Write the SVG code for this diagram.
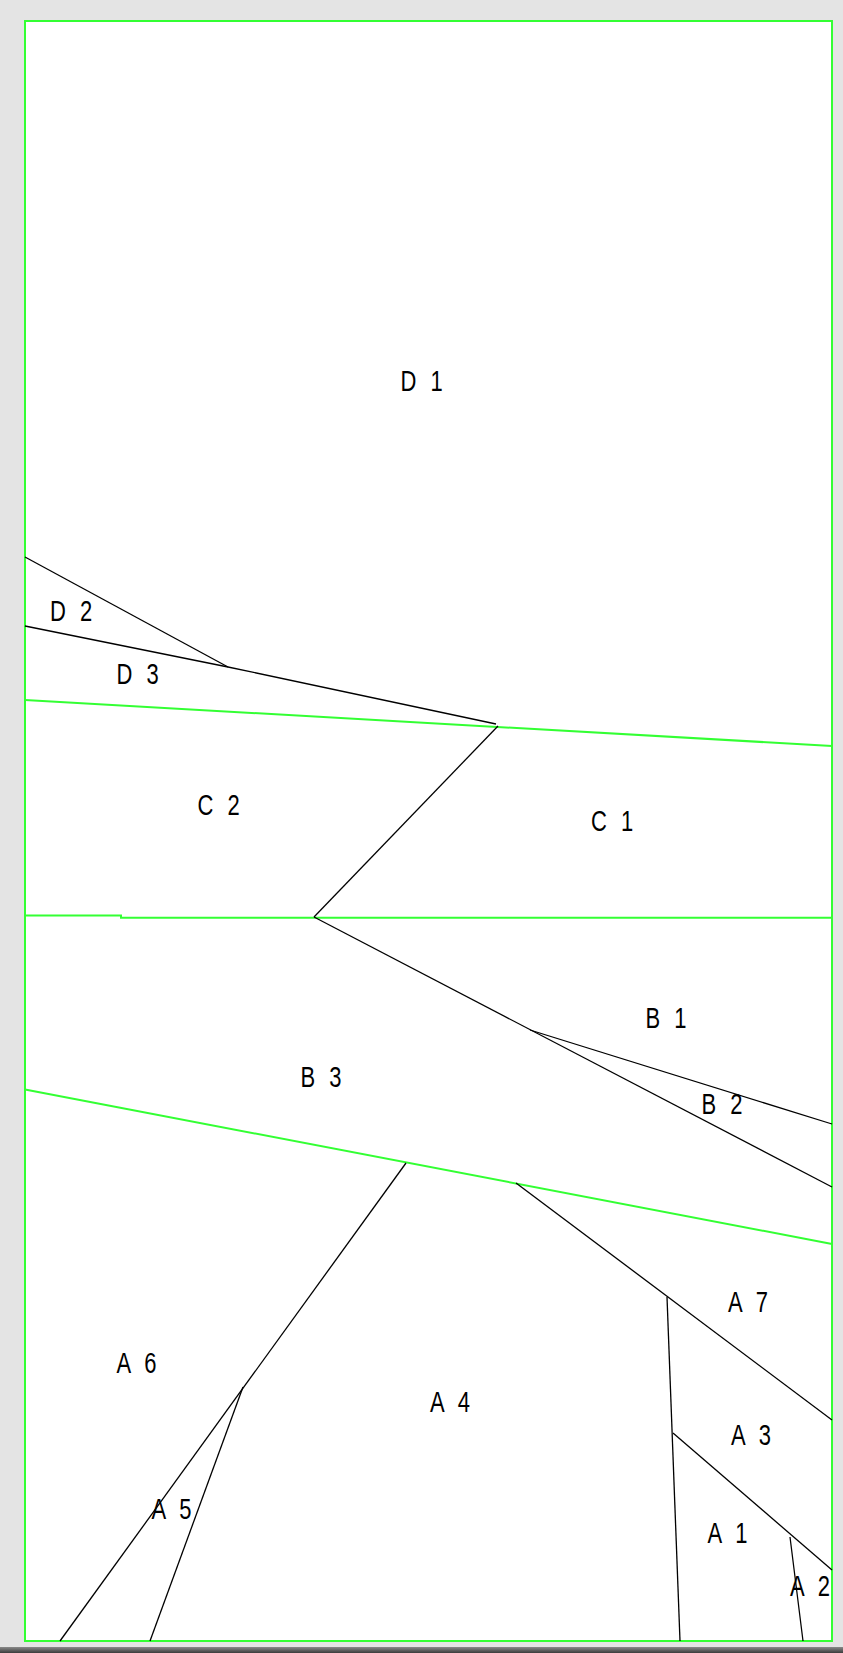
<svg xmlns="http://www.w3.org/2000/svg" width="843" height="1653" viewBox="0 0 843 1653">
  <defs>
    <linearGradient id="bar" x1="0" y1="0" x2="0" y2="1">
      <stop offset="0" stop-color="#8a8a8a"/>
      <stop offset="1" stop-color="#3c3c3c"/>
    </linearGradient>
  </defs>
  <style>
    .zone { fill: none; stroke: #33ff33; stroke-width: 2; }
    .div { fill: none; stroke: #000000; stroke-width: 1.3; }
    .lbl { font-family: "Liberation Sans", Arial, sans-serif; font-size: 22px; word-spacing: 8px; text-anchor: middle; fill: #000000; }
  </style>
  <rect x="0" y="0" width="843" height="1653" fill="#e4e4e4"/>
  <rect x="0" y="1647" width="843" height="6" fill="url(#bar)"/>
  <rect x="25" y="21" width="807" height="1620" fill="#ffffff"/>
  <rect x="25" y="21" width="807" height="1620" class="zone"/>

  <g id="zone-boundaries">
    <polyline class="zone" points="25,700 832,746"/>
    <polyline class="zone" points="25,915.5 121,915.5 121,917.8 832,917.8"/>
    <polyline class="zone" points="25,1089.5 832,1244"/>
  </g>

  <g id="dividers">
    <polyline class="div" points="25,557 228,667"/>
    <polyline class="div" points="25,626 228,667 496,724"/>
    <polyline class="div" points="498,726 314,917"/>
    <polyline class="div" points="314,917 832,1187"/>
    <polyline class="div" points="530,1030 832,1124"/>
    <polyline class="div" points="406,1163 60,1641"/>
    <polyline class="div" points="243,1387 150,1641"/>
    <polyline class="div" points="516,1183 832,1420"/>
    <polyline class="div" points="667,1297 680,1641"/>
    <polyline class="div" points="673,1433 832,1570"/>
    <polyline class="div" points="790,1537 803,1641"/>
  </g>

  <g id="D1"><text class="lbl" transform="translate(421.5,391) scale(1,1.33)">D 1</text></g>
  <g id="D2"><text class="lbl" transform="translate(71,621) scale(1,1.33)">D 2</text></g>
  <g id="D3"><text class="lbl" transform="translate(137.5,684) scale(1,1.33)">D 3</text></g>
  <g id="C2"><text class="lbl" transform="translate(218.5,815) scale(1,1.33)">C 2</text></g>
  <g id="C1"><text class="lbl" transform="translate(612,831) scale(1,1.33)">C 1</text></g>
  <g id="B1"><text class="lbl" transform="translate(666,1028) scale(1,1.33)">B 1</text></g>
  <g id="B3"><text class="lbl" transform="translate(321,1087) scale(1,1.33)">B 3</text></g>
  <g id="B2"><text class="lbl" transform="translate(722,1114) scale(1,1.33)">B 2</text></g>
  <g id="A7"><text class="lbl" transform="translate(748,1312) scale(1,1.33)">A 7</text></g>
  <g id="A6"><text class="lbl" transform="translate(136.5,1373) scale(1,1.33)">A 6</text></g>
  <g id="A4"><text class="lbl" transform="translate(450,1412) scale(1,1.33)">A 4</text></g>
  <g id="A3"><text class="lbl" transform="translate(751,1445) scale(1,1.33)">A 3</text></g>
  <g id="A5"><text class="lbl" transform="translate(171.5,1519) scale(1,1.33)">A 5</text></g>
  <g id="A1"><text class="lbl" transform="translate(727.5,1543) scale(1,1.33)">A 1</text></g>
  <g id="A2"><text class="lbl" transform="translate(810,1596) scale(1,1.33)">A 2</text></g>
</svg>
